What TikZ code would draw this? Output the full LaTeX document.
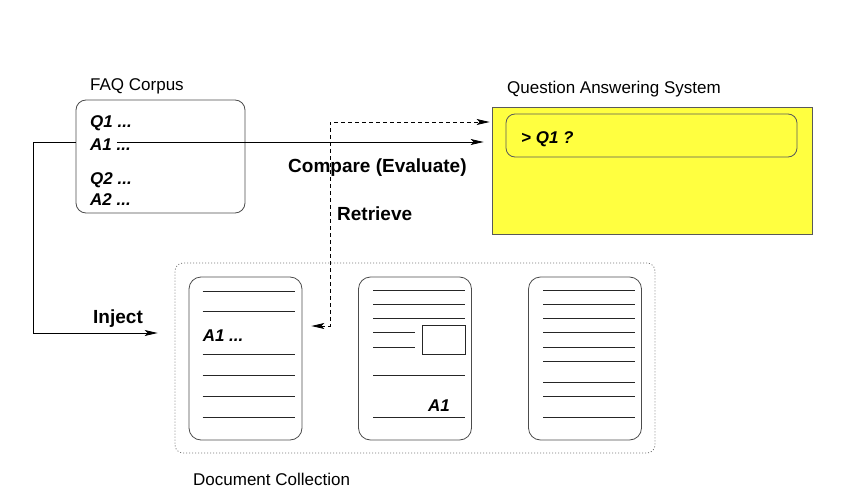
\documentclass[tikz,border=0pt]{standalone}
\usepackage{fontspec}
\setmainfont{Liberation Sans}
\usetikzlibrary{arrows.meta}

\definecolor{qayellow}{RGB}{255,255,64}
\tikzset{
  qtip/.tip={Stealth[length=13pt,width=6pt,inset=3pt]},
  lbl/.style={font=\fontsize{17}{20}\selectfont,anchor=base west,inner sep=0pt},
  blbl/.style={font=\fontsize{19}{22}\selectfont\bfseries,anchor=base west,inner sep=0pt},
  bilbl/.style={font=\fontsize{17}{20}\selectfont\bfseries\itshape,anchor=base west,inner sep=0pt},
  faqbox/.style={draw=black!70,rounded corners=10pt,minimum width=169pt,minimum height=113pt,line width=0.8pt},
  qabox/.style={draw=black!65,fill=qayellow,minimum width=320pt,minimum height=127pt,line width=0.8pt},
  qain/.style={draw=black!65,rounded corners=9pt,minimum width=291pt,minimum height=43pt,line width=0.8pt},
  coll/.style={draw=black!55,dash pattern=on 1pt off 2pt,rounded corners=8pt,minimum width=480pt,minimum height=190pt,line width=0.8pt},
  doc/.style={draw=black!70,rounded corners=12pt,minimum width=113pt,minimum height=163pt,line width=0.8pt},
  txtline/.style={draw=black!85,line width=0.8pt},
  flow/.style={-qtip,line width=0.8pt}
}

\begin{document}
\begin{tikzpicture}[x=1pt,y=-1pt]
\useasboundingbox (0,0) rectangle (843,500);

% FAQ corpus
\node[lbl] (faqlbl) at (90,91) {FAQ Corpus};
\node[faqbox] (faq) at (160.5,156.5) {};
\node[bilbl] (q1) at (90,128) {Q1 ...};
\node[bilbl] (a1) at (90,150) {A1 ...};
\node[bilbl] (q2) at (90,184) {Q2 ...};
\node[bilbl] (a2) at (90,205) {A2 ...};

% QA system
\node[lbl] (qalbl) at (507,94) {Question Answering System};
\node[qabox] (qa) at (652,170.5) {};
\node[qain] (qin) at (651.5,135.5) {};
\node[bilbl] (qq) at (521,143) {> Q1 ?};

% document collection
\node[coll] (col) at (415,358) {};
\node[lbl] (collbl) at (193,485) {Document Collection};
\node[doc] (doc1) at (245.5,358.5) {};
\node[doc] (doc2) at (415,358.5) {};
\node[doc] (doc3) at (585,358.5) {};

\foreach \y in {15,35,78,99,120,141}
  \draw[txtline] ([shift={(14,\y)}]doc1.north west) -- ++(92,0);
\node[bilbl] (d1a1) at ([shift={(14,65)}]doc1.north west) {A1 ...};

\foreach \y in {14,28,42,99,141}
  \draw[txtline] ([shift={(15,\y)}]doc2.north west) -- ++(92,0);
\foreach \y in {56,71}
  \draw[txtline] ([shift={(15,\y)}]doc2.north west) -- ++(42,0);
\draw[txtline] ([shift={(64,49)}]doc2.north west) rectangle ++(43,29);
\node[bilbl,anchor=base east] (d2a1) at ([shift={(92,135)}]doc2.north west) {A1};

\foreach \y in {14,28,42,56,71,85,106,120,141}
  \draw[txtline] ([shift={(15,\y)}]doc3.north west) -- ++(92,0);

% connectors
\coordinate (ac) at ([shift={(27,-8)}]a1.base west);
\coordinate (inj) at (33,333);
\coordinate (ra) at (330,326);
\coordinate (rb) at (330,122);
\draw[flow,shorten >=8pt] (ac) -- (qa.west |- ac);
\draw[flow,shorten >=17pt] (faq.west |- ac) -| (inj) -- (col.west |- inj);
\draw[qtip-qtip,line width=0.8pt,dash pattern=on 4pt off 3pt,shorten <=9pt,shorten >=2pt]
  (doc1.east |- ra) -- (ra) -- (rb) -- (qa.west |- rb);

\node[blbl] (cmp) at (288,172) {Compare (Evaluate)};
\node[blbl] (ret) at (337,220) {Retrieve};
\node[blbl] (injl) at (93,323) {Inject};
\end{tikzpicture}
\end{document}
